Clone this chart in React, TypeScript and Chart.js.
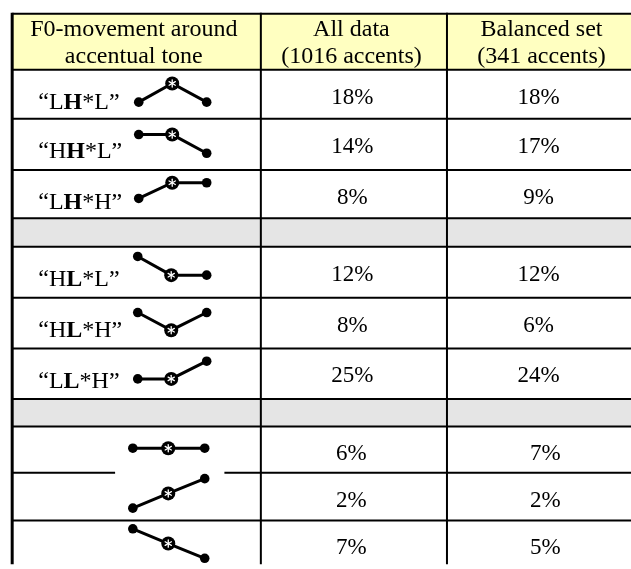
import React, { useEffect, useRef } from "react";
import { Chart, registerables } from "chart.js";

Chart.register(...registerables);

// ---------------- DATA ----------------
const headerCol1 = ["F0-movement around", "accentual tone"];
const headerCol2 = ["All data", "(1016 accents)"];
const headerCol3 = ["Balanced set", "(341 accents)"];

// tone label pieces: pre-accent, accented (bold), post-accent ("" = no label)
const tonePre = ["L", "H", "L", "H", "H", "L", "", "", ""];
const toneAccent = ["H", "H", "H", "L", "L", "L", "", "", ""];
const tonePost = ["L", "L", "H", "L", "H", "H", "", "", ""];

// percentages
const allData = [18, 14, 8, 12, 8, 25, 6, 2, 7];
const balancedSet = [18, 17, 9, 12, 6, 24, 7, 2, 5];

// F0 level (1 = high, 0 = low) before, at and after the accent
const f0Before = [0, 1, 0, 1, 1, 0, 0.5, 0, 1];
const f0Accent = [1, 1, 1, 0, 0, 0, 0.5, 0.5, 0.5];
const f0After = [0, 0, 1, 0, 1, 1, 0.5, 1, 0];

// rows per group (groups separated by grey rows)
const groupSizes = [3, 3, 3];

// ---------------- LAYOUT ----------------
const W = 631;
const H = 569;
const ROW_EDGES = [9, 66, 116, 168, 217, 246, 298, 349.5, 401, 429, 476, 524.5, 590];
const COL_LINES = [260, 449];
const LEFT_BORDER = 7.5;
const RIGHT_EDGE = 640;
const HEADER_CENTERS = [131, 352, 545];
const HEADER_BASELINES = [31.5, 59];
const VALUE_CENTERS_COL2 = [353, 353, 352];
const VALUE_CENTERS_COL3 = [542, 542, 549];
const LABEL_X = 34;
const GLYPH_X = [
  [136, 170, 205],
  [135, 169, 205],
  [130, 166, 203],
];
const GLYPH_HIGH = [14, 16, 13, 10, 15, 13, 7, 6, 8.5];
const GLYPH_SPAN = [19, 19, 16, 19, 18, 18, 30, 30, 30];

const SERIF = '"Liberation Serif", "Times New Roman", serif';

// slots
const dataSlots: number[] = [];
const gapSlots: number[] = [];
const rowGroup: number[] = [];
(() => {
  let slot = 1;
  groupSizes.forEach((n, g) => {
    if (g > 0) gapSlots.push(slot++);
    for (let i = 0; i < n; i++) {
      dataSlots.push(slot++);
      rowGroup.push(g);
    }
  });
})();

const tablePlugin = {
  id: "tableGrid",
  beforeDatasetsDraw(chart: any) {
    const ctx = chart.ctx as CanvasRenderingContext2D;
    const xs = chart.scales.x;
    const ys = chart.scales.y;
    const px = (v: number) => xs.getPixelForValue(v);
    const py = (v: number) => ys.getPixelForValue(v);
    ctx.save();

    // header fill
    ctx.fillStyle = "#FFFFC1";
    ctx.fillRect(px(LEFT_BORDER), py(ROW_EDGES[0]), px(RIGHT_EDGE) - px(LEFT_BORDER), py(ROW_EDGES[1]) - py(ROW_EDGES[0]));
    // grey separator rows
    ctx.fillStyle = "#E5E5E5";
    gapSlots.forEach((s) => {
      ctx.fillRect(px(LEFT_BORDER), py(ROW_EDGES[s]), px(RIGHT_EDGE) - px(LEFT_BORDER), py(ROW_EDGES[s + 1]) - py(ROW_EDGES[s]));
    });

    // horizontal lines
    ctx.strokeStyle = "#000";
    ctx.lineWidth = 2;
    ctx.lineCap = "butt";
    for (let i = 0; i < ROW_EDGES.length - 1; i++) {
      const y = py(ROW_EDGES[i]);
      ctx.beginPath();
      if (i === 10) {
        ctx.moveTo(px(LEFT_BORDER), y);
        ctx.lineTo(px(112), y);
        ctx.moveTo(px(223), y);
        ctx.lineTo(px(RIGHT_EDGE), y);
      } else {
        ctx.moveTo(px(LEFT_BORDER), y);
        ctx.lineTo(px(RIGHT_EDGE), y);
      }
      ctx.stroke();
    }
    // vertical lines
    COL_LINES.forEach((c) => {
      ctx.beginPath();
      ctx.moveTo(px(c), py(ROW_EDGES[0]) - 1);
      ctx.lineTo(px(c), py(H));
      ctx.stroke();
    });
    ctx.lineWidth = 3;
    ctx.beginPath();
    ctx.moveTo(px(LEFT_BORDER), py(ROW_EDGES[0]) - 1);
    ctx.lineTo(px(LEFT_BORDER), py(H));
    ctx.stroke();

    // header text
    ctx.fillStyle = "#000";
    ctx.textAlign = "center";
    ctx.textBaseline = "alphabetic";
    ctx.font = `24px ${SERIF}`;
    [headerCol1, headerCol2, headerCol3].forEach((lines, c) => {
      lines.forEach((t, l) => ctx.fillText(t, px(HEADER_CENTERS[c]), py(HEADER_BASELINES[l])));
    });

    // values
    ctx.font = `23px ${SERIF}`;
    dataSlots.forEach((s, r) => {
      const top = ROW_EDGES[s];
      const g = rowGroup[r];
      ctx.fillText(`${allData[r]}%`, px(VALUE_CENTERS_COL2[g]), py(top + 34.5));
      ctx.fillText(`${balancedSet[r]}%`, px(VALUE_CENTERS_COL3[g]), py(top + 34.5));
    });

    // tone labels
    ctx.textAlign = "left";
    dataSlots.forEach((s, r) => {
      if (!toneAccent[r]) return;
      const y = py(ROW_EDGES[s] + 40);
      let x = px(LABEL_X);
      const parts = [
        { t: "\u201C" + tonePre[r], b: false },
        { t: toneAccent[r], b: true },
        { t: "*" + tonePost[r] + "\u201D", b: false },
      ];
      parts.forEach((p) => {
        ctx.font = `${p.b ? "bold " : ""}24px ${SERIF}`;
        ctx.fillText(p.t, x, y);
        x += ctx.measureText(p.t).width;
      });
    });
    ctx.restore();
  },
  afterDatasetsDraw(chart: any) {
    const ctx = chart.ctx as CanvasRenderingContext2D;
    ctx.save();
    ctx.strokeStyle = "#fff";
    ctx.lineWidth = 1.3;
    ctx.lineCap = "round";
    chart.data.datasets.forEach((_: any, i: number) => {
      const meta = chart.getDatasetMeta(i);
      const pt = meta.data[1];
      if (!pt) return;
      const r = 3.6;
      for (let k = 0; k < 3; k++) {
        const a = Math.PI / 2 + (k * Math.PI) / 3;
        ctx.beginPath();
        ctx.moveTo(pt.x - r * Math.cos(a), pt.y - r * Math.sin(a));
        ctx.lineTo(pt.x + r * Math.cos(a), pt.y + r * Math.sin(a));
        ctx.stroke();
      }
    });
    ctx.restore();
  },
};

export default function App() {
  const ref = useRef<HTMLCanvasElement | null>(null);
  useEffect(() => {
    if (!ref.current) return;
    const datasets = dataSlots.map((s, r) => {
      const top = ROW_EDGES[s];
      const gx = GLYPH_X[rowGroup[r]];
      const lv = [f0Before[r], f0Accent[r], f0After[r]];
      return {
        data: lv.map((l, k) => ({ x: gx[k], y: top + GLYPH_HIGH[r] + (1 - l) * GLYPH_SPAN[r] })),
        showLine: true,
        borderColor: "#000",
        borderWidth: 3,
        pointRadius: [4.8, 7, 4.8],
        pointHoverRadius: [4.8, 7, 4.8],
        pointBackgroundColor: "#000",
        pointBorderColor: "#000",
        pointBorderWidth: 0,
        tension: 0,
        clip: false as any,
      };
    });
    const chart = new Chart(ref.current, {
      type: "scatter",
      data: { datasets },
      options: {
        animation: false,
        responsive: false,
        events: [],
        layout: { padding: 0 },
        plugins: { legend: { display: false }, tooltip: { enabled: false }, title: { display: false } },
        scales: {
          x: { type: "linear", min: 0, max: W, display: false },
          y: { type: "linear", min: 0, max: H, reverse: true, display: false },
        },
      },
      plugins: [tablePlugin],
    });
    return () => chart.destroy();
  }, []);
  return (
    <div style={{ position: "absolute", left: 0, top: 0, width: W, height: H, background: "#fff" }}>
      <canvas ref={ref} width={W} height={H} style={{ display: "block" }} />
    </div>
  );
}
